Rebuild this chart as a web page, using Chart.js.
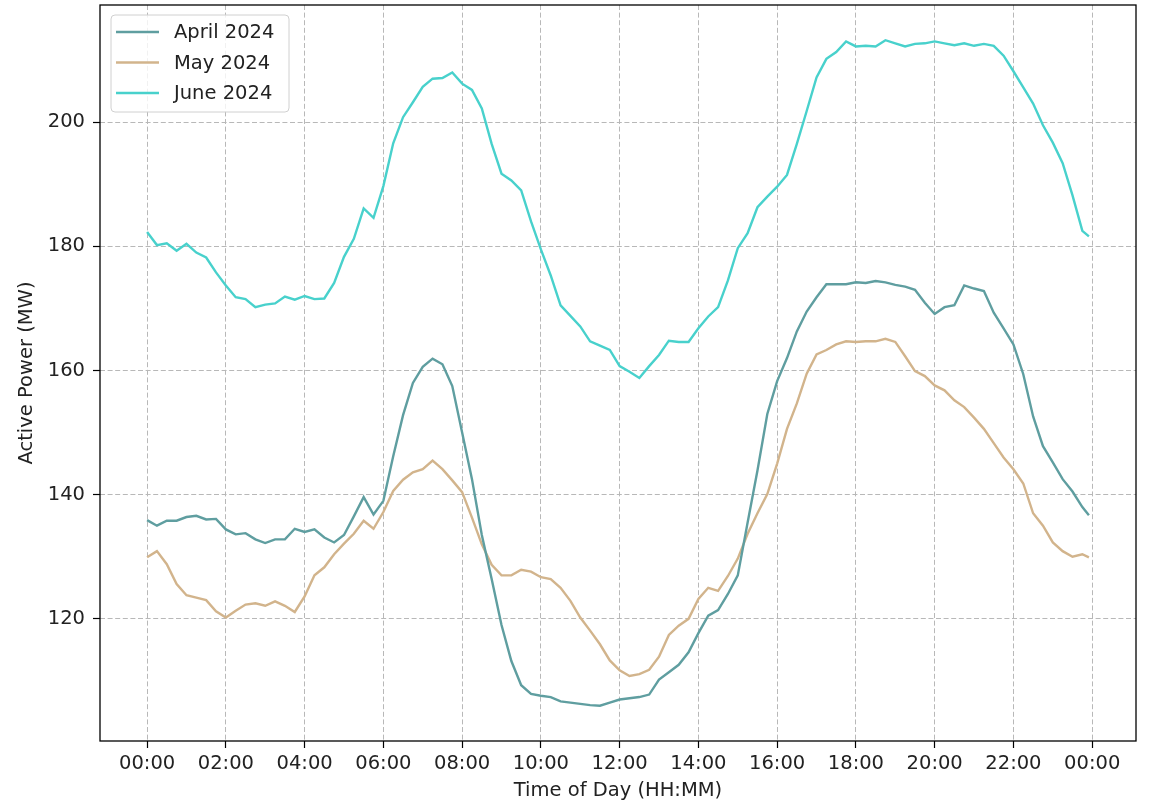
<!DOCTYPE html>
<html>
<head>
<meta charset="utf-8">
<script src="https://cdn.jsdelivr.net/npm/chart.js@4.4.1/dist/chart.umd.min.js"></script>
<style>
  body { margin: 0; background: #fff; }
  #wrap { width: 1152px; height: 804px; }
</style>
</head>
<body>
<div id="wrap"><canvas id="powerChart" width="1152" height="804"></canvas></div>
<script>
/* Data: 15-minute readings of the daily load profile */
const timeLabels = [
  "00:00", "00:15", "00:30", "00:45", "01:00", "01:15", "01:30", "01:45",
  "02:00", "02:15", "02:30", "02:45", "03:00", "03:15", "03:30", "03:45",
  "04:00", "04:15", "04:30", "04:45", "05:00", "05:15", "05:30", "05:45",
  "06:00", "06:15", "06:30", "06:45", "07:00", "07:15", "07:30", "07:45",
  "08:00", "08:15", "08:30", "08:45", "09:00", "09:15", "09:30", "09:45",
  "10:00", "10:15", "10:30", "10:45", "11:00", "11:15", "11:30", "11:45",
  "12:00", "12:15", "12:30", "12:45", "13:00", "13:15", "13:30", "13:45",
  "14:00", "14:15", "14:30", "14:45", "15:00", "15:15", "15:30", "15:45",
  "16:00", "16:15", "16:30", "16:45", "17:00", "17:15", "17:30", "17:45",
  "18:00", "18:15", "18:30", "18:45", "19:00", "19:15", "19:30", "19:45",
  "20:00", "20:15", "20:30", "20:45", "21:00", "21:15", "21:30", "21:45",
  "22:00", "22:15", "22:30", "22:45", "23:00", "23:15", "23:30", "23:45",
  "23:55",
];

const april2024 = [
  135.9, 135.0, 135.8, 135.8, 136.4, 136.6, 136.0, 136.1,
  134.4, 133.6, 133.8, 132.8, 132.2, 132.8, 132.8, 134.5,
  134.0, 134.4, 133.1, 132.3, 133.5, 136.5, 139.6, 136.8,
  139.0, 146.2, 152.8, 158.0, 160.6, 161.9, 161.0, 157.5,
  150.0, 142.5, 133.5, 126.4, 119.0, 113.2, 109.3, 107.9,
  107.6, 107.4, 106.7, 106.5, 106.3, 106.1, 106.0, 106.5,
  107.0, 107.2, 107.4, 107.8, 110.2, 111.4, 112.6, 114.6,
  117.7, 120.5, 121.4, 124.0, 127.0, 135.5, 143.9, 153.0,
  158.3, 162.0, 166.3, 169.5, 171.8, 173.9, 173.9, 173.9,
  174.2, 174.1, 174.4, 174.2, 173.8, 173.5, 173.0, 170.9,
  169.1, 170.2, 170.5, 173.7, 173.2, 172.8, 169.3, 166.8,
  164.2, 159.4, 152.6, 147.8, 145.2, 142.5, 140.5, 138.0,
  136.7,
];

const may2024 = [
  129.9, 130.9, 128.8, 125.6, 123.8, 123.4, 123.0, 121.2,
  120.2, 121.3, 122.3, 122.5, 122.1, 122.8, 122.1, 121.1,
  123.6, 127.0, 128.3, 130.4, 132.1, 133.7, 135.8, 134.5,
  137.2, 140.6, 142.4, 143.6, 144.1, 145.5, 144.1, 142.3,
  140.4, 136.3, 132.0, 128.7, 127.0, 127.0, 127.9, 127.6,
  126.7, 126.4, 125.0, 122.9, 120.2, 118.1, 115.9, 113.3,
  111.7, 110.8, 111.1, 111.8, 113.9, 117.4, 118.9, 120.0,
  123.2, 125.0, 124.5, 126.9, 129.7, 133.7, 137.0, 140.1,
  145.0, 150.6, 154.7, 159.5, 162.6, 163.3, 164.2, 164.7,
  164.6, 164.7, 164.7, 165.1, 164.6, 162.3, 159.9, 159.1,
  157.6, 156.8, 155.2, 154.1, 152.4, 150.6, 148.3, 146.0,
  144.1, 141.8, 137.0, 135.0, 132.3, 130.9, 130.0, 130.4,
  129.9,
];

const june2024 = [
  182.3, 180.2, 180.5, 179.3, 180.4, 179.0, 178.2, 175.8,
  173.7, 171.8, 171.5, 170.2, 170.6, 170.8, 171.9, 171.4,
  172.0, 171.5, 171.6, 174.1, 178.3, 181.2, 186.1, 184.6,
  189.7, 196.6, 200.8, 203.2, 205.7, 207.0, 207.1, 208.0,
  206.2, 205.2, 202.2, 196.5, 191.7, 190.6, 189.0, 184.0,
  179.5, 175.3, 170.5, 168.8, 167.1, 164.7, 164.0, 163.3,
  160.7, 159.8, 158.8, 160.7, 162.5, 164.8, 164.6, 164.6,
  166.8, 168.7, 170.2, 174.5, 179.7, 182.1, 186.3, 188.0,
  189.6, 191.5, 196.5, 201.8, 207.2, 210.2, 211.3, 213.0,
  212.2, 212.3, 212.2, 213.2, 212.7, 212.2, 212.6, 212.7,
  213.0, 212.7, 212.4, 212.7, 212.3, 212.6, 212.3, 210.7,
  208.2, 205.6, 203.0, 199.5, 196.7, 193.4, 188.2, 182.5,
  181.6,
];

const seriesNames = ["April 2024", "May 2024", "June 2024"];
const seriesColors = ["#5f9ea0", "#d2b48c", "#48d1cc"];

/* Axis ticks */
const xTickLabels = ["00:00", "02:00", "04:00", "06:00", "08:00", "10:00", "12:00",
  "14:00", "16:00", "18:00", "20:00", "22:00", "00:00"];
const xTickMinutes = [0, 120, 240, 360, 480, 600, 720, 840, 960, 1080, 1200, 1320, 1440];
const yTicks = [120, 140, 160, 180, 200];

/* helpers */
const toMinutes = (hhmm) => {
  const [h, m] = hhmm.split(":").map(Number);
  return h * 60 + m;
};
const minutes = timeLabels.map(toMinutes);
const toPoints = (values) => values.map((v, i) => ({ x: minutes[i], y: v }));

const FONT = "'DejaVu Sans', 'Liberation Sans', sans-serif";
Chart.defaults.font.family = FONT;
Chart.defaults.font.size = 19.5;
Chart.defaults.color = "#222";

/* frame on all four sides and a legend inside the plot, like the original */
const frameAndLegend = {
  id: "frameAndLegend",
  afterDraw(chart) {
    const { ctx, chartArea: a } = chart;
    ctx.save();
    ctx.strokeStyle = "#000";
    ctx.lineWidth = 1.3;
    ctx.setLineDash([]);
    ctx.strokeRect(a.left, a.top, a.right - a.left, a.bottom - a.top);

    // legend box
    const bx = a.left + 11, by = a.top + 10, bw = 178, bh = 97, r = 4;
    ctx.beginPath();
    ctx.moveTo(bx + r, by);
    ctx.lineTo(bx + bw - r, by);
    ctx.arcTo(bx + bw, by, bx + bw, by + r, r);
    ctx.lineTo(bx + bw, by + bh - r);
    ctx.arcTo(bx + bw, by + bh, bx + bw - r, by + bh, r);
    ctx.lineTo(bx + r, by + bh);
    ctx.arcTo(bx, by + bh, bx, by + bh - r, r);
    ctx.lineTo(bx, by + r);
    ctx.arcTo(bx, by, bx + r, by, r);
    ctx.closePath();
    ctx.fillStyle = "rgba(255,255,255,0.8)";
    ctx.fill();
    ctx.strokeStyle = "#d0d0d0";
    ctx.lineWidth = 1;
    ctx.stroke();

    ctx.font = "19.5px " + FONT;
    ctx.textBaseline = "middle";
    ctx.textAlign = "left";
    chart.data.datasets.forEach((ds, i) => {
      const yy = by + 17 + i * 30.5;
      ctx.strokeStyle = ds.borderColor;
      ctx.lineWidth = ds.borderWidth;
      ctx.beginPath();
      ctx.moveTo(bx + 5, yy);
      ctx.lineTo(bx + 48, yy);
      ctx.stroke();
      ctx.fillStyle = "#222";
      ctx.fillText(ds.label, bx + 63, yy + 1);
    });
    ctx.restore();
  },
};

const gridStyle = {
  color: "#b8b8b8",
  lineWidth: 1,
  tickColor: "#000",
  tickLength: 7,
  tickWidth: 1.2,
};

const powerChart = new Chart(document.getElementById("powerChart"), {
  type: "line",
  data: {
    datasets: [april2024, may2024, june2024].map((values, i) => ({
      label: seriesNames[i],
      data: toPoints(values),
      borderColor: seriesColors[i],
      backgroundColor: seriesColors[i],
      borderWidth: 2.4,
      pointRadius: 0,
      tension: 0,
      fill: false,
    })),
  },
  options: {
    responsive: false,
    animation: false,
    devicePixelRatio: 1,
    layout: { padding: { top: 5, right: 16, left: 0, bottom: 0 } },
    plugins: {
      legend: { display: false },
      tooltip: { enabled: false },
    },
    scales: {
      x: {
        type: "linear",
        min: -71.75,
        max: 1506.75,
        grid: gridStyle,
        border: { display: false, dash: [5, 2.6] },
        afterBuildTicks: (scale) => {
          scale.ticks = xTickMinutes.map((v) => ({ value: v }));
        },
        afterFit: (scale) => {
          scale.height = 63;
          scale.paddingLeft = 0;
          scale.paddingRight = 0;
        },
        ticks: {
          autoSkip: false,
          maxRotation: 0,
          padding: 4,
          color: "#222",
          callback: (value, index) => xTickLabels[index],
        },
        title: {
          display: true,
          text: "Time of Day (HH:MM)",
          color: "#222",
          padding: { top: 0, bottom: 1 },
        },
      },
      y: {
        min: 100.32,
        max: 218.87,
        grid: gridStyle,
        border: { display: false, dash: [5, 2.6] },
        afterBuildTicks: (scale) => {
          scale.ticks = yTicks.map((v) => ({ value: v }));
        },
        afterFit: (scale) => {
          scale.width = 100;
          scale.paddingTop = 0;
          scale.paddingBottom = 0;
        },
        ticks: {
          padding: 8,
          color: "#222",
          callback: (value) => String(value),
        },
        title: {
          display: true,
          text: "Active Power (MW)",
          color: "#222",
          padding: { top: 15, bottom: 0 },
        },
      },
    },
  },
  plugins: [frameAndLegend],
});
</script>
</body>
</html>
